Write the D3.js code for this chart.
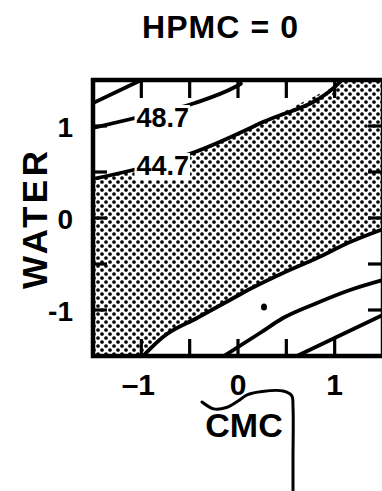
<!DOCTYPE html>
<html><head><meta charset="utf-8">
<script src="https://cdn.jsdelivr.net/npm/d3@7"></script>
<style>html,body{margin:0;padding:0;background:#fff;} svg{display:block}</style>
</head><body>
<svg id="chart" width="382" height="491"></svg>
<script>
// ---------- data ----------
const titleText = "HPMC = 0";
const xAxisLabel = "CMC";
const yAxisLabel = "WATER";
const xTickLabels = [-1, 0, 1];
const yTickLabels = [-1, 0, 1];
const tickValues = [-1, -0.5, 0, 0.5, 1];
const domainMin = -1.5, domainMax = 1.5;

// contour lines, [CMC, WATER] pairs
const contourTopLeft = [[-1.5,1.25],[-1.0,1.5]];
const contour487 = [[-1.5,0.978],[-1.107,1.076],[-0.445,1.25],[-0.031,1.424],[0.03,1.46]];
const contour447 = [[-1.5,0.424],[-1.086,0.522],[-0.445,0.717],[0.259,1.043],[1.024,1.446],[1.076,1.5]];
const shadeLower = [[-0.983,-1.5],[-0.776,-1.293],[-0.424,-1.087],[-0.083,-0.891],[0.124,-0.772],[0.466,-0.598],[0.817,-0.435],[1.159,-0.261],[1.5,-0.12]];
const contourLow1 = [[-0.145,-1.5],[0.228,-1.25],[0.466,-1.087],[0.817,-0.924],[1.159,-0.783],[1.5,-0.674]];
const contourLow2 = [[0.61,-1.5],[1.086,-1.261],[1.5,-1.054]];
const designPoints = [[0.269,-0.967]];
const contourLabels = ["48.7", "44.7"];
const contourLabelAnchors = [[-1.05,0.989],[-1.05,0.467]];
// hand-drawn bracket annotation below the plot
const annotation = [[-0.372,-2.0],[-0.25,-2.075],[-0.12,-2.06],[0.0,-1.99],[0.1,-1.92],[0.25,-1.885],[0.466,-1.88],[0.555,-1.93],[0.569,-2.06],[0.569,-2.6],[0.569,-2.98]];

// ---------- drawing ----------
const svg = d3.select("#chart");
const W = 382, H = 491;
const x = d3.scaleLinear().domain([domainMin, domainMax]).range([93, 383]);
const y = d3.scaleLinear().domain([domainMin, domainMax]).range([356, 80]);
const FONT = "'Liberation Sans', Arial, Helvetica, sans-serif";

svg.append("rect").attr("width", W).attr("height", H).attr("fill", "#fff");

const defs = svg.append("defs");
const pat = defs.append("pattern").attr("id","dots").attr("patternUnits","userSpaceOnUse")
  .attr("width",8).attr("height",8);
pat.append("rect").attr("width",8).attr("height",8).attr("fill","#fff");
pat.append("circle").attr("cx",2).attr("cy",2).attr("r",1.85).attr("fill","#000");
pat.append("circle").attr("cx",6).attr("cy",6).attr("r",1.85).attr("fill","#000");

defs.append("clipPath").attr("id","plotclip").append("rect")
  .attr("x", x(domainMin)).attr("y", y(domainMax))
  .attr("width", x(domainMax)-x(domainMin)).attr("height", y(domainMin)-y(domainMax));

const g = svg.append("g").attr("clip-path","url(#plotclip)");
const line = d3.line().x(d => x(d[0])).y(d => y(d[1])).curve(d3.curveMonotoneX);
const straight = d3.line().x(d => x(d[0])).y(d => y(d[1]));

// shaded region
const shadePoly = contour447.concat([[domainMax, domainMax]], shadeLower.slice().reverse(), [[domainMin, domainMin]]);
g.append("path")
  .attr("d", straight(shadePoly) + "Z")
  .attr("fill","url(#dots)");

// contour lines
[contourTopLeft, contour487, contour447, shadeLower, contourLow1, contourLow2].forEach(c => {
  g.append("path").attr("d", line(c)).attr("fill","none")
    .attr("stroke","#000").attr("stroke-width",3.8).attr("stroke-linecap","round");
});

// contour labels with white halo
contourLabels.forEach((lab, i) => {
  const t = g.append("text").attr("x", x(contourLabelAnchors[i][0])).attr("y", y(contourLabelAnchors[i][1]))
    .attr("font-family", FONT).attr("font-weight","bold").attr("font-size",27).text(lab);
  const bb = t.node().getBBox();
  g.insert("rect", () => t.node()).attr("x", bb.x-2).attr("y", bb.y+2).attr("width", bb.width+3).attr("height", bb.height-3).attr("fill","#fff");
});

// design point
g.selectAll("ellipse.pt").data(designPoints).join("ellipse").attr("class","pt")
  .attr("cx", d => x(d[0])).attr("cy", d => y(d[1])).attr("rx",3).attr("ry",3.5).attr("fill","#000");

// ticks (inward on all four sides)
const tk = svg.append("g").attr("stroke","#000").attr("stroke-width",3.2);
tickValues.forEach(v => {
  tk.append("line").attr("x1", x(v)).attr("x2", x(v)).attr("y1", y(domainMin)).attr("y2", y(domainMin)-17);
  tk.append("line").attr("x1", x(v)).attr("x2", x(v)).attr("y1", y(domainMax)).attr("y2", y(domainMax)+18);
  tk.append("line").attr("y1", y(v)).attr("y2", y(v)).attr("x1", x(domainMin)).attr("x2", x(domainMin)+14);
  tk.append("line").attr("y1", y(v)).attr("y2", y(v)).attr("x1", x(domainMax)).attr("x2", x(domainMax)-15);
});

// frame
svg.append("rect").attr("x", x(domainMin)).attr("y", y(domainMax))
  .attr("width", x(domainMax)-x(domainMin)).attr("height", y(domainMin)-y(domainMax))
  .attr("fill","none").attr("stroke","#000").attr("stroke-width",4.5);

// tick labels
const fmt = v => v < 0 ? "\u2013" + Math.abs(v) : String(v);
svg.selectAll("text.xt").data(xTickLabels).join("text").attr("class","xt")
  .attr("x", d => x(d) + (d < 0 ? -3 : 0)).attr("y", 395)
  .attr("text-anchor","middle").attr("font-family",FONT).attr("font-weight","bold").attr("font-size",30)
  .text(fmt);
svg.selectAll("text.yt").data(yTickLabels).join("text").attr("class","yt")
  .attr("x", 73).attr("y", d => y(d) + 11)
  .attr("text-anchor","end").attr("font-family",FONT).attr("font-weight","bold").attr("font-size",28)
  .text(d => d < 0 ? "-" + Math.abs(d) : String(d));

// title and axis labels
svg.append("text").attr("x", 220).attr("y", 38).attr("text-anchor","middle")
  .attr("font-family",FONT).attr("font-weight","bold").attr("font-size",32)
  .attr("textLength",156).attr("lengthAdjust","spacing").text(titleText);
svg.append("text").attr("x", 244).attr("y", 437).attr("text-anchor","middle")
  .attr("font-family",FONT).attr("font-weight","bold").attr("font-size",34).text(xAxisLabel);
svg.append("text").attr("transform","translate(47,220) rotate(-90)").attr("text-anchor","middle")
  .attr("font-family",FONT).attr("font-weight","bold").attr("font-size",35)
  .attr("textLength",138).attr("lengthAdjust","spacing").text(yAxisLabel);

// hand-drawn bracket
svg.append("path").attr("d", d3.line().x(d => x(d[0])).y(d => y(d[1])).curve(d3.curveCatmullRom)(annotation))
  .attr("fill","none").attr("stroke","#000").attr("stroke-width",3).attr("stroke-linecap","round");
</script>
</body></html>
